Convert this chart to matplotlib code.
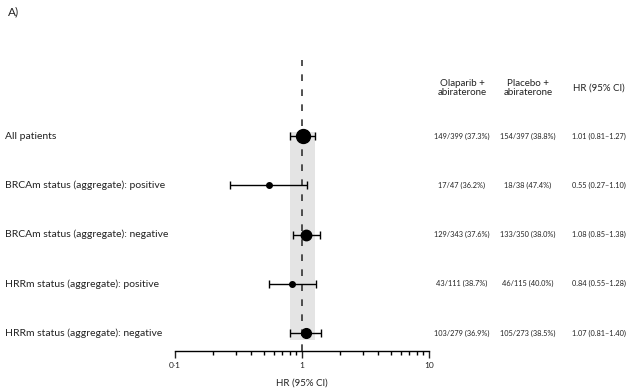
import numpy as np
import matplotlib.pyplot as plt
import matplotlib.transforms as mtransforms

# subgroup data
labels = ['All patients',
          'BRCAm status (aggregate): positive',
          'BRCAm status (aggregate): negative',
          'HRRm status (aggregate): positive',
          'HRRm status (aggregate): negative']
hr = [1.01, 0.55, 1.08, 0.84, 1.07]
ci_low = [0.81, 0.27, 0.85, 0.55, 0.81]
ci_high = [1.27, 1.10, 1.38, 1.28, 1.40]
olaparib = ['149/399 (37.3%)', '17/47 (36.2%)', '129/343 (37.6%)', '43/111 (38.7%)', '103/279 (36.9%)']
placebo = ['154/397 (38.8%)', '18/38 (47.4%)', '133/350 (38.0%)', '46/115 (40.0%)', '105/273 (38.5%)']
hr_text = ['1.01 (0.81–1.27)', '0.55 (0.27–1.10)', '1.08 (0.85–1.38)', '0.84 (0.55–1.28)', '1.07 (0.81–1.40)']
marker_size = [10, 4, 7.5, 4, 7]

txt = '#222222'
plt.rcParams['font.family'] = ['Lato', 'DejaVu Sans']

fig = plt.figure(figsize=(6.3, 3.91), dpi=100)
ax = fig.add_axes([175 / 630, 1 - 351 / 391, 254 / 630, (351 - 60) / 391])

y = np.arange(len(labels))
ax.set_xscale('log')
ax.set_xlim(0.1, 10)
ax.set_ylim(4.365, -1.543)

# shaded band for overall CI
ax.fill_betweenx([-0.08, 4.15], ci_low[0], ci_high[0], color='#e4e4e4', lw=0, zorder=0)
ax.axvline(1, color='#333333', lw=1.2, ls=(0, (4, 5)), zorder=1)

for i in range(len(labels)):
    ax.errorbar(hr[i], y[i], xerr=[[hr[i] - ci_low[i]], [ci_high[i] - hr[i]]],
                fmt='o', color='black', ms=marker_size[i], capsize=3,
                elinewidth=1, capthick=1, zorder=3)

for s in ['top', 'right', 'left']:
    ax.spines[s].set_visible(False)
ax.spines['bottom'].set_linewidth(1)
ax.set_yticks([])
ax.set_xticks([0.1, 1, 10])
ax.set_xticklabels(['0·1', '1', '10'])
ax.tick_params(axis='x', which='major', length=5, width=1, labelsize=6, colors=txt, pad=3)
ax.tick_params(axis='x', which='minor', length=3, width=1)
ax.set_xlabel('HR (95% CI)', fontsize=7, color=txt, labelpad=7)

tr = mtransforms.blended_transform_factory(fig.transFigure, ax.transData)
for i in range(len(labels)):
    fig.text(5 / 630, y[i], labels[i], transform=tr, fontsize=7.5, color=txt, va='center', ha='left')
    fig.text(462 / 630, y[i], olaparib[i], transform=tr, fontsize=5.3, color=txt, va='center', ha='center')
    fig.text(528 / 630, y[i], placebo[i], transform=tr, fontsize=5.3, color=txt, va='center', ha='center')
    fig.text(599 / 630, y[i], hr_text[i], transform=tr, fontsize=5.3, color=txt, va='center', ha='center')

hy = 1 - 88 / 391
fig.text(462 / 630, hy, 'Olaparib +\nabiraterone', fontsize=7, color=txt, ha='center', va='center', linespacing=1.0)
fig.text(528 / 630, hy, 'Placebo +\nabiraterone', fontsize=7, color=txt, ha='center', va='center', linespacing=1.0)
fig.text(599 / 630, hy, 'HR (95% CI)', fontsize=7, color=txt, ha='center', va='center')

fig.text(8 / 630, 1 - 12 / 391, 'A)', fontsize=8.5, color=txt, ha='left', va='center')

fig.savefig('out.png', dpi=100)
